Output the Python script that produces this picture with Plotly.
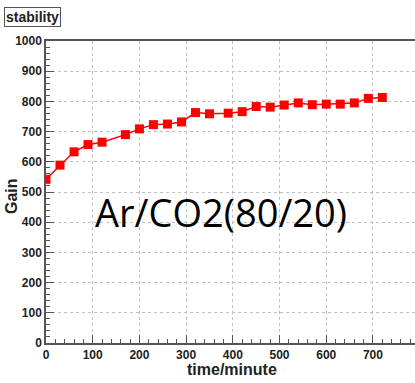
import plotly.graph_objects as go

time_min = [0, 30, 60, 90, 120, 170, 200, 230, 260, 290, 320, 350, 390, 420,
            450, 480, 510, 540, 570, 600, 630, 660, 690, 720]
gain = [542, 589, 633, 657, 665, 690, 709, 723, 725, 732, 763, 759, 761, 766,
        783, 781, 788, 795, 789, 791, 791, 795, 810, 813]

x_ticks = [0, 100, 200, 300, 400, 500, 600, 700]
y_ticks = [0, 100, 200, 300, 400, 500, 600, 700, 800, 900, 1000]

fig = go.Figure()
fig.add_trace(go.Scatter(
    x=time_min, y=gain, mode="lines+markers",
    line=dict(color="#ff0000", width=1.5),
    marker=dict(symbol="square", size=9, color="#ff0000"),
    showlegend=False,
))

tickfont = dict(family="Liberation Sans", size=12, color="#222222", weight="bold")
axis_common = dict(
    showline=True, linecolor="#555555", linewidth=1.5,
    ticks="inside", ticklen=8, tickwidth=1, tickcolor="#555555",
    showgrid=True, gridcolor="#c0c0c0", griddash="dot", gridwidth=1,
    zeroline=False, tickfont=tickfont,
)

fig.update_xaxes(range=[0, 790], tickvals=x_ticks, mirror=True,
                 minor=dict(dtick=20, ticks="inside", ticklen=4, tickcolor="#555555", showgrid=False),
                 **axis_common)
fig.update_yaxes(range=[0, 1000], tickvals=y_ticks,
                 minor=dict(dtick=20, ticks="inside", ticklen=4, tickcolor="#555555", showgrid=False),
                 **axis_common)

fig.add_annotation(text="Ar/CO2(80/20)", x=374, y=434, xref="x", yref="y",
                   showarrow=False, font=dict(family="Open Sans", size=38, color="black"))
fig.add_annotation(text="time/minute", x=(232 - 46) / 369, y=-(370 - 343) / 302,
                   xref="paper", yref="paper", xanchor="center", yanchor="middle",
                   showarrow=False,
                   font=dict(family="Liberation Sans", size=16, color="#222222", weight="bold"))
fig.add_annotation(text="Gain", x=-(46 - 11) / 369, y=(343 - 196) / 302,
                   xref="paper", yref="paper", xanchor="center", yanchor="middle",
                   showarrow=False, textangle=-90,
                   font=dict(family="Liberation Sans", size=16, color="#222222", weight="bold"))
fig.add_annotation(text="stability", x=(4 - 46) / 369, y=(343 - 7) / 302,
                   xref="paper", yref="paper", xanchor="left", yanchor="top",
                   showarrow=False, bordercolor="#555555", borderwidth=1, borderpad=1,
                   bgcolor="white",
                   font=dict(family="Liberation Sans", size=14, color="#222222", weight="bold"))

fig.update_layout(
    width=415, height=383,
    margin=dict(l=46, r=0, t=41, b=40),
    paper_bgcolor="white", plot_bgcolor="white",
)

fig.write_html("out.html")
